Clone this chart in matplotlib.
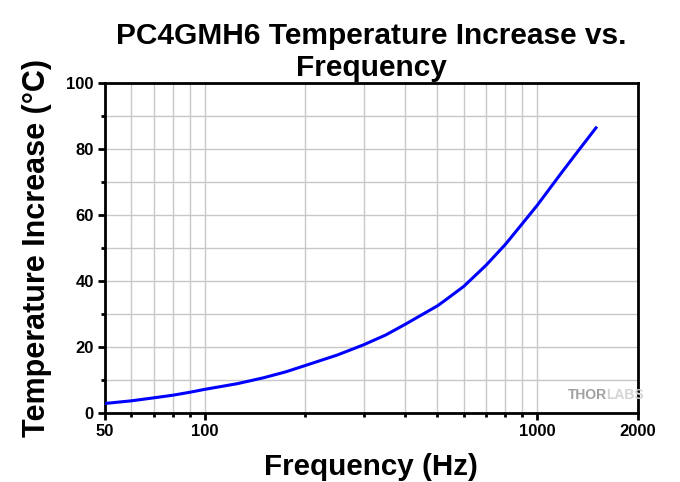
import matplotlib
matplotlib.use("Agg")
import matplotlib.pyplot as plt
from matplotlib.ticker import FixedLocator, NullFormatter, FixedFormatter

freq = [50, 60, 70, 80, 90, 100, 125, 150, 175, 200, 250, 300, 350, 400, 440, 500, 526,
        600, 700, 800, 900, 1000, 1190, 1340, 1500]
temp = [2.8, 3.6, 4.5, 5.3, 6.2, 7.1, 8.8, 10.6, 12.4, 14.3, 17.5, 20.6, 23.6, 26.8, 29.2,
        32.4, 34.0, 38.3, 44.7, 51.0, 57.3, 63.0, 73.2, 80.0, 86.4]
xticks = [50, 100, 1000, 2000]
xlabels = ["50", "100", "1000", "2000"]
minor_x = [60, 70, 80, 90, 200, 300, 400, 500, 600, 700, 800, 900]
yticks = [0, 20, 40, 60, 80, 100]
minor_y = [10, 30, 50, 70, 90]

plt.rcParams['font.family'] = ['Liberation Sans', 'DejaVu Sans']
fig = plt.figure(figsize=(6.8, 4.82), dpi=100)
ax = fig.add_axes([105/680, 1-412.7/482, 532.5/680, 329.7/482])
ax.plot(freq, temp, color='#0000ff', lw=2.2, zorder=3, solid_joinstyle='round')
ax.set_xscale('log')
ax.set_xlim(50, 2000)
ax.set_ylim(0, 100)
ax.xaxis.set_major_locator(FixedLocator(xticks))
ax.xaxis.set_major_formatter(FixedFormatter(xlabels))
ax.xaxis.set_minor_locator(FixedLocator(minor_x))
ax.xaxis.set_minor_formatter(NullFormatter())
ax.set_yticks(yticks)
ax.set_yticks(minor_y, minor=True)
ax.grid(True, which='both', color='#c8c8c8', lw=1, zorder=0)
for s in ax.spines.values():
    s.set_linewidth(2)
ax.tick_params(which='major', direction='out', length=5, width=2, labelsize=12, pad=3)
ax.tick_params(which='minor', direction='out', length=3, width=2)
for lab in ax.get_xticklabels() + ax.get_yticklabels():
    lab.set_fontweight('bold')
ax.set_xlabel('Frequency (Hz)', fontsize=21.3, fontweight='bold', labelpad=10)
ax.set_ylabel('Temperature Increase (°C)', fontsize=22, fontweight='bold', labelpad=10)
ax.set_title('PC4GMH6 Temperature Increase vs.\nFrequency', fontsize=21.5, fontweight='bold',
             pad=5, linespacing=1.18)
ax.text(0.942, 0.055, 'THOR', transform=ax.transAxes, ha='right', va='center',
        fontsize=10, fontweight='bold', color='#a0a0a0')
ax.text(0.942, 0.055, 'LABS', transform=ax.transAxes, ha='left', va='center',
        fontsize=10, fontweight='bold', color='#d4d4d4')
fig.savefig('out.png', dpi=100)
